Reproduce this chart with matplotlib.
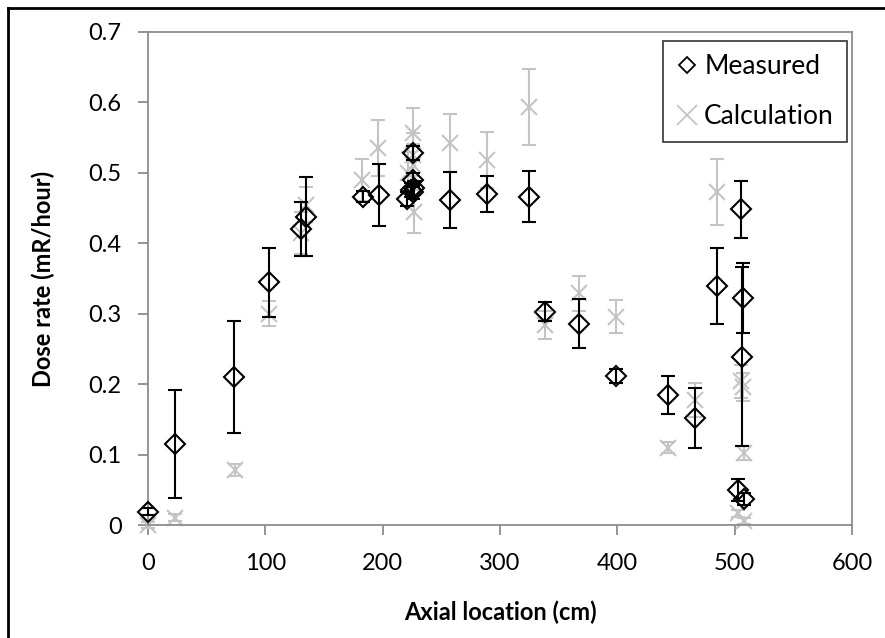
import matplotlib.pyplot as plt
from matplotlib.lines import Line2D

plt.rcParams["font.family"] = ["Lato", "DejaVu Sans"]

# measured dose rate (black diamonds)
meas_x = [0, 23, 73, 103, 130, 135, 183, 197, 221, 224, 226, 226, 226, 227,
          257, 289, 325, 338, 367, 399, 443, 466, 485, 505, 506, 507, 503, 508]
meas_y = [0.019, 0.115, 0.210, 0.345, 0.420, 0.438, 0.466, 0.469, 0.463, 0.476,
          0.473, 0.490, 0.528, 0.478, 0.461, 0.470, 0.466, 0.303, 0.286, 0.212,
          0.185, 0.152, 0.339, 0.448, 0.239, 0.322, 0.050, 0.037]
meas_err = [0.005, 0.076, 0.079, 0.049, 0.038, 0.056, 0.008, 0.044, 0.010, 0.010,
            0.010, 0.010, 0.010, 0.010, 0.040, 0.026, 0.036, 0.014, 0.035, 0.010,
            0.027, 0.042, 0.054, 0.041, 0.127, 0.050, 0.016, 0.008]

# calculated dose rate (grey crosses)
calc_x = [0, 23, 74, 103, 130, 135, 182, 196, 222, 226, 226, 226, 227, 257,
          289, 325, 338, 367, 399, 443, 466, 485, 505, 507, 508, 503, 508]
calc_y = [0.0, 0.010, 0.078, 0.300, 0.415, 0.455, 0.490, 0.535, 0.500, 0.556,
          0.526, 0.511, 0.445, 0.542, 0.518, 0.594, 0.284, 0.329, 0.296, 0.110,
          0.178, 0.473, 0.204, 0.196, 0.102, 0.017, 0.006]
calc_err = [0.004, 0.005, 0.008, 0.018, 0.030, 0.025, 0.030, 0.040, 0.030, 0.036,
            0.030, 0.030, 0.030, 0.041, 0.040, 0.054, 0.020, 0.025, 0.023, 0.008,
            0.024, 0.047, 0.023, 0.020, 0.010, 0.005, 0.004]

grey = "#c4c4c4"
spine = "#8c8c8c"

fig = plt.figure(figsize=(8.85, 6.38), dpi=100)
ax = fig.add_axes([148 / 885, 1 - 525 / 638, 704 / 885, 493 / 638])

ax.errorbar(calc_x, calc_y, yerr=calc_err, fmt="x", color=grey, ms=12, mew=1.5,
            elinewidth=1.5, capsize=5, capthick=1.5, zorder=2, clip_on=False)
ax.errorbar(meas_x, meas_y, yerr=meas_err, fmt="D", color="black", mfc="none",
            ms=10.5, mew=1.5, elinewidth=1.5, capsize=5, capthick=1.5, zorder=3,
            clip_on=False)

ax.set_xlim(0, 600)
ax.set_ylim(0, 0.7)
ax.set_xticks(range(0, 601, 100))
ax.set_yticks([i / 10 for i in range(8)])
ax.set_yticklabels(["0", "0.1", "0.2", "0.3", "0.4", "0.5", "0.6", "0.7"])

for s in ax.spines.values():
    s.set_color(spine)
    s.set_linewidth(1.3)
ax.tick_params(axis="both", colors=spine, labelcolor="black", labelsize=17,
               length=7, width=1.3)
ax.tick_params(axis="y", pad=12)
ax.tick_params(axis="x", pad=13)

ax.set_xlabel("Axial location (cm)", fontsize=17, fontweight="bold", labelpad=19)
ax.set_ylabel("Dose rate (mR/hour)", fontsize=17, fontweight="bold", labelpad=24)

handles = [
    Line2D([], [], marker="D", color="black", mfc="none", ls="none", ms=8, mew=1.3),
    Line2D([], [], marker="x", color=grey, ls="none", ms=14, mew=1.3),
]
leg = ax.legend(handles, ["Measured", "Calculation"], loc="upper right",
                bbox_to_anchor=(0.993, 0.982), borderaxespad=0, fontsize=19,
                frameon=True, fancybox=False, handlelength=0.8, handletextpad=0.25,
                labelspacing=0.95, borderpad=0.5)
leg.get_frame().set_edgecolor("black")
leg.get_frame().set_linewidth(1.2)

# figure frame (left and top edges)
fig.add_artist(Line2D([8 / 885, 8 / 885], [0, 1 - 8 / 638], color="black", lw=2))
fig.add_artist(Line2D([8 / 885, 1], [1 - 8 / 638, 1 - 8 / 638], color="black", lw=2))

fig.savefig("out.png", dpi=100)
